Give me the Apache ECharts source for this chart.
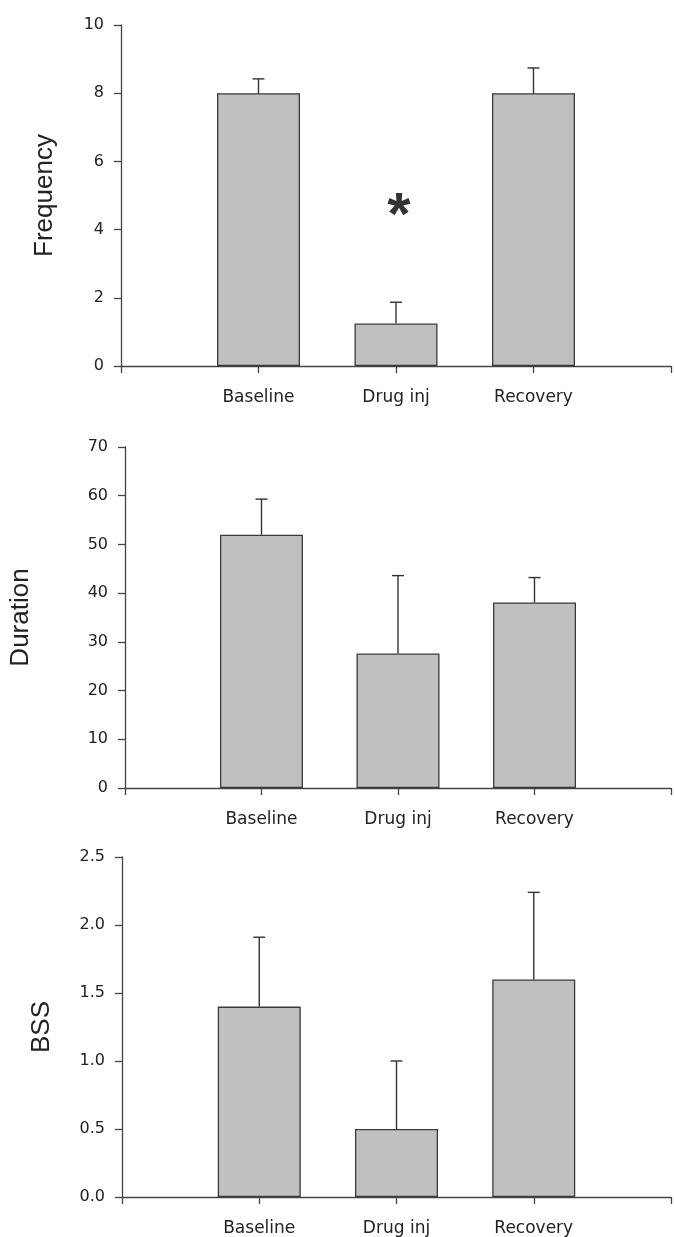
<!DOCTYPE html>
<html>
<head>
<meta charset="utf-8">
<script src="https://cdn.jsdelivr.net/npm/echarts@6/dist/echarts.min.js"></script>
<style>
html,body{margin:0;padding:0;background:#fff;}
#c{width:674px;height:1237px;}
</style>
</head>
<body>
<div id="c"></div>
<script>
// ---- data ----
const categories = ['', 'Baseline', 'Drug inj', 'Recovery', ''];
const frequencyMean = [null, 8.0, 1.25, 8.0, null];
const frequencyUpper = [null, 8.42, 1.87, 8.74, null];
const durationMean = [null, 52.0, 27.6, 38.1, null];
const durationUpper = [null, 59.3, 43.6, 43.2, null];
const bssMean = [null, 1.40, 0.50, 1.60, null];
const bssUpper = [null, 1.91, 1.00, 2.24, null];
const panelTitles = ['Frequency', 'Duration', 'BSS'];
const yMax = [10, 70, 2.5];
const yInterval = [2, 10, 0.5];
const asterisk = { category: 'Drug inj', value: 4.72, text: '*' };

// ---- chart ----
const axisColor = '#444';
const grids = [
  { left: 121, right: 3, top: 25, height: 341 },
  { left: 122, right: 0, top: 447, height: 341 },
  { left: 122, right: 2, top: 857, height: 341 }
];
const nameGaps = [63, 91, 67];
const means = [frequencyMean, durationMean, bssMean];
const uppers = [frequencyUpper, durationUpper, bssUpper];

const xAxes = [], yAxes = [], series = [];
for (let i = 0; i < 3; i++) {
  xAxes.push({
    type: 'category', gridIndex: i, data: categories, boundaryGap: false,
    axisLine: { lineStyle: { color: axisColor, width: 1.3 } },
    axisTick: { show: true, length: 7, lineStyle: { color: axisColor, width: 1.3 }, interval: 0 },
    axisLabel: { interval: 0, margin: 23, color: '#222', fontFamily: 'DejaVu Sans', fontSize: 17 },
    splitLine: { show: false }
  });
  yAxes.push({
    type: 'value', gridIndex: i, min: 0, max: yMax[i], interval: yInterval[i],
    name: panelTitles[i], nameLocation: 'middle', nameGap: nameGaps[i], nameRotate: 90,
    nameTextStyle: { fontFamily: 'Liberation Sans', fontSize: 26, color: '#222' },
    axisLine: { show: true, lineStyle: { color: axisColor, width: 1.3 } },
    axisTick: { show: true, length: 7, lineStyle: { color: axisColor, width: 1.3 } },
    axisLabel: {
      margin: 17, color: '#222', fontFamily: 'DejaVu Sans', fontSize: 16,
      formatter: i === 2 ? (v => v.toFixed(1)) : (v => String(v))
    },
    splitLine: { show: false }
  });
  series.push({
    type: 'bar', xAxisIndex: i, yAxisIndex: i, barWidth: 83,
    data: means[i].map(v => v === null ? '-' : v),
    itemStyle: { color: '#c0c0c0', borderColor: '#3a3a3a', borderWidth: 1.3 },
    silent: true, animation: false
  });
  const errData = [];
  means[i].forEach((m, k) => { if (m !== null) errData.push([k, m, uppers[i][k]]); });
  series.push({
    type: 'custom', xAxisIndex: i, yAxisIndex: i, data: errData, animation: false, silent: true,
    encode: { x: 0, y: [1, 2] },
    renderItem: function (params, api) {
      const base = api.coord([api.value(0), api.value(1)]);
      const top = api.coord([api.value(0), api.value(2)]);
      const hw = 6;
      const st = { stroke: '#333', lineWidth: 1.4, fill: null };
      return {
        type: 'group', children: [
          { type: 'line', shape: { x1: base[0], y1: base[1], x2: top[0], y2: top[1] }, style: st },
          { type: 'line', shape: { x1: top[0] - hw, y1: top[1], x2: top[0] + hw, y2: top[1] }, style: st }
        ]
      };
    },
    z: 3
  });
}
series.push({
  type: 'scatter', xAxisIndex: 0, yAxisIndex: 0, symbolSize: 0, animation: false, silent: true,
  data: [[asterisk.category, asterisk.value]],
  label: {
    show: true, position: 'inside', formatter: asterisk.text, offset: [3, 12],
    fontFamily: 'Liberation Sans', fontWeight: 'bold', fontSize: 60, color: '#000'
  }
});

const chart = echarts.init(document.getElementById('c'), null, { renderer: 'canvas' });
chart.setOption({
  animation: false,
  backgroundColor: '#fff',
  grid: grids,
  xAxis: xAxes,
  yAxis: yAxes,
  series: series
});
</script>
</body>
</html>
